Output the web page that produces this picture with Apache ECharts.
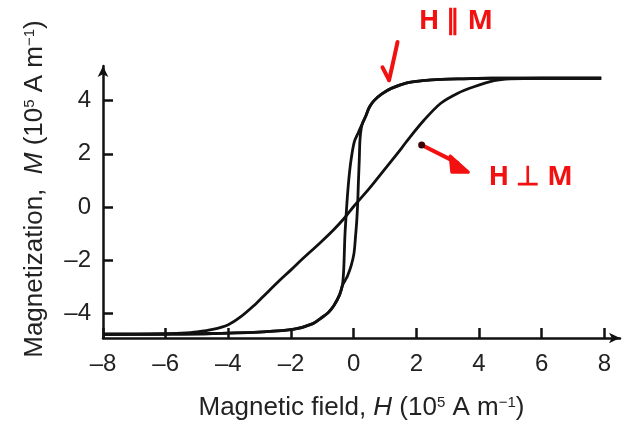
<!DOCTYPE html>
<html>
<head>
<meta charset="utf-8">
<script src="https://cdn.jsdelivr.net/npm/echarts@6/dist/echarts.min.js"></script>
<style>
  html, body { margin: 0; padding: 0; background: #fff; }
  #chart { width: 624px; height: 425px; }
</style>
</head>
<body>
<div id="chart"></div>
<script>
// tick positions
const xTicks = [-8, -6, -4, -2, 0, 2, 4, 6, 8];
const yTicks = [-4, -2, 0, 2, 4];

// H perpendicular to M (hard axis, no hysteresis)
const fieldPerp = [-8, -7, -6, -5.5, -5, -4.5, -4, -3.6, -3.2, -2.87, -2.4, -2, -1.68, -1.05, -0.63, -0.3, 0, 0.5, 0.97, 1.5, 1.71, 2.25, 2.78, 3.31, 3.84, 4.48, 5, 6, 7.9];
const magPerp   = [-4.78, -4.78, -4.77, -4.74, -4.69, -4.6, -4.42, -4.12, -3.72, -3.34, -2.8, -2.36, -2.0, -1.32, -0.84, -0.42, 0.02, 0.7, 1.39, 2.17, 2.5, 3.27, 3.9, 4.27, 4.52, 4.75, 4.82, 4.84, 4.84];

// H parallel to M, descending branch (+sat -> -sat)
const fieldDown = [7.9, 6, 4.4, 3.5, 2.8, 2.2, 1.7, 1.2, 0.9, 0.65, 0.5, 0.38, 0.28, 0.15, 0.02, -0.08, -0.15, -0.2, -0.24, -0.28, -0.3, -0.32, -0.36, -0.45, -0.63, -0.8, -1.05, -1.3, -1.9, -2.9, -4.5, -6, -8];
const magDown   = [4.84, 4.84, 4.84, 4.82, 4.8, 4.75, 4.67, 4.46, 4.25, 4.0, 3.75, 3.4, 3.15, 2.8, 2.45, 1.8, 1.1, 0.4, -0.3, -1.1, -1.8, -2.4, -2.95, -3.3, -3.7, -3.95, -4.18, -4.38, -4.59, -4.69, -4.75, -4.77, -4.78];

// H parallel to M, ascending branch (-sat -> +sat)
const fieldUp = [-8, -6, -4.5, -2.9, -1.9, -1.3, -1.05, -0.8, -0.63, -0.45, -0.36, -0.27, -0.2, -0.08, 0.01, 0.06, 0.1, 0.13, 0.15, 0.18, 0.2, 0.24, 0.3, 0.38, 0.5, 0.65, 0.9, 1.2, 1.7, 2.2, 2.8, 3.5, 4.4, 6, 7.9];
const magUp   = [-4.78, -4.77, -4.75, -4.69, -4.59, -4.38, -4.18, -3.95, -3.7, -3.3, -2.95, -2.75, -2.6, -2.2, -1.74, -1.1, -0.49, 0.2, 0.9, 1.8, 2.5, 2.95, 3.2, 3.4, 3.75, 4.0, 4.25, 4.46, 4.67, 4.75, 4.8, 4.82, 4.84, 4.84, 4.84];

// hand-drawn red notes, anchored in data units (H, M)
const noteParText = [3.26, 6.99];
const noteParArrow = [[1.4, 6.2], [1.27, 5.5], [1.13, 4.77]];
const noteParWing = [[0.92, 5.25], [1.13, 4.77]];
const notePerpDot = [2.17, 2.33];
const notePerpEnd = [3.32, 1.65];
const notePerpHead = [[3.08, 1.92], [3.66, 1.31], [3.13, 1.31]];
const notePerpText = [5.65, 1.13];

const font = '"Liberation Sans", Arial, Helvetica, sans-serif';
const ink = '#111';
const red = '#f21010';

const zip = (xs, ys) => xs.map((x, i) => [x, ys[i]]);
const dash = v => String(v).replace('-', '\u2013');

const nameRich = {
    t: { fontSize: 26, fontFamily: font, color: '#222' },
    i: { fontSize: 26, fontFamily: font, color: '#222', fontStyle: 'italic' },
    s: { fontSize: 15, fontFamily: font, color: '#222', verticalAlign: 'top' }
};

const curve = (data) => ({
    type: 'line',
    data: data,
    showSymbol: false,
    smooth: 0.3,
    lineStyle: { color: ink, width: 2.8 },
    silent: true
});

const chart = echarts.init(document.getElementById('chart'));

chart.setOption({
    animation: false,
    backgroundColor: '#fff',
    grid: { left: 103, right: 4, top: 66, bottom: 87, outerBoundsMode: 'none' },
    xAxis: {
        type: 'value',
        min: -8,
        max: 8.5,
        splitLine: { show: false },
        axisLine: {
            onZero: false,
            symbol: ['none', 'arrow'],
            symbolSize: [8, 11],
            lineStyle: { color: ink, width: 2.5 }
        },
        axisTick: { inside: true, length: 10, customValues: xTicks, lineStyle: { color: ink, width: 2.5 } },
        axisLabel: { customValues: xTicks, formatter: dash, fontSize: 24, margin: 14, color: '#222', fontFamily: font },
        name: '{t|Magnetic field, }{i|H}{t| (10}{s|5}{t| A m}{s|\u22121}{t|)}',
        nameLocation: 'middle',
        nameGap: 57,
        nameTextStyle: { rich: nameRich }
    },
    yAxis: {
        type: 'value',
        min: -4.92,
        max: 5.3,
        splitLine: { show: false },
        axisLine: {
            onZero: false,
            symbol: ['none', 'arrow'],
            symbolSize: [8, 11],
            lineStyle: { color: ink, width: 2.5 }
        },
        axisTick: { inside: true, length: 10, customValues: yTicks, lineStyle: { color: ink, width: 2.5 } },
        axisLabel: { customValues: yTicks, formatter: dash, fontSize: 24, margin: 12, color: '#222', fontFamily: font },
        name: '{t|Magnetization,  }{i|M}{t| (10}{s|5}{t| A m}{s|\u22121}{t|)}',
        nameLocation: 'middle',
        nameRotate: 90,
        nameGap: 55,
        nameTextStyle: { rich: nameRich, padding: [0, 0, 0, 26] }
    },
    series: [
        curve(zip(fieldPerp, magPerp)),
        curve(zip(fieldDown, magDown)),
        curve(zip(fieldUp, magUp))
    ]
});

// place the red notes after the axes exist
const px = p => chart.convertToPixel({ gridIndex: 0 }, p);
const noteText = (p, text) => {
    const [x, y] = px(p);
    return {
        type: 'text', x: x, y: y, silent: true,
        style: { text: text, fill: red, font: 'bold 27px "Noto Sans", sans-serif', align: 'center', verticalAlign: 'middle' }
    };
};
const stroke = { stroke: red, lineWidth: 4, lineCap: 'round', lineJoin: 'round', fill: null };
const dot = px(notePerpDot);

chart.setOption({
    graphic: [
        noteText(noteParText, 'H \u2225 M'),
        { type: 'polyline', silent: true, shape: { points: noteParArrow.map(px), smooth: 0.4 }, style: stroke },
        { type: 'polyline', silent: true, shape: { points: noteParWing.map(px) }, style: stroke },
        { type: 'line', silent: true, shape: { x1: dot[0], y1: dot[1], x2: px(notePerpEnd)[0], y2: px(notePerpEnd)[1] }, style: stroke },
        { type: 'polygon', silent: true, shape: { points: notePerpHead.map(px) }, style: { fill: red, stroke: red, lineWidth: 3, lineJoin: 'round' } },
        { type: 'circle', silent: true, shape: { cx: dot[0], cy: dot[1], r: 3.5 }, style: { fill: '#3a0505' } },
        noteText(notePerpText, 'H \u22a5 M')
    ]
});
</script>
</body>
</html>
